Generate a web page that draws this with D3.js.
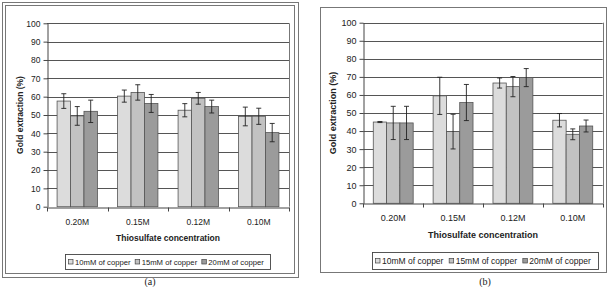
<html><head>
<meta charset="UTF-8">
<title>Gold extraction vs thiosulfate concentration</title>
<script src="https://d3js.org/d3.v7.min.js"></script>
<style>
    body { margin: 0; background: #fff; }
    svg { display: block; }
    text { font-family: "Liberation Sans", Arial, sans-serif; fill: #222; }
</style>
</head>
<body>
<svg id="chart" width="609" height="287"></svg>
<script>
    const categories = ["0.20M", "0.15M", "0.12M", "0.10M"];
    const seriesNames = ["10mM of copper", "15mM of copper", "20mM of copper"];
    const yTicks = [0, 10, 20, 30, 40, 50, 60, 70, 80, 90, 100];

    // panel (a)
    const aCu10 = [57.6, 60.3, 52.6, 49.2];
    const aCu15 = [49.5, 62.3, 59.1, 49.3];
    const aCu20 = [52.0, 56.3, 54.6, 40.4];
    const aErr10 = [4.0, 3.3, 3.6, 5.1];
    const aErr15 = [5.1, 4.2, 3.2, 4.4];
    const aErr20 = [6.1, 4.9, 3.5, 5.0];

    // panel (b)
    const bCu10 = [45.0, 59.5, 66.6, 46.0];
    const bCu15 = [44.5, 39.7, 64.6, 38.2];
    const bCu20 = [44.5, 55.8, 69.6, 42.8];
    const bErr10 = [0.3, 10.3, 2.8, 3.7];
    const bErr15 = [9.2, 9.6, 5.6, 3.0];
    const bErr20 = [9.2, 10.0, 5.0, 3.3];

    const colors = ["#dcdcdc", "#c2c2c2", "#9b9b9b"];

    const svg = d3.select("#chart");

    function drawPanel(p) {
        const g = svg.append("g");

        // frame
        p.frames.forEach(f => {
            g.append("rect").attr("x", f[0] + 0.5).attr("y", f[1] + 0.5)
                .attr("width", f[2] - f[0]).attr("height", f[3] - f[1])
                .attr("fill", "none").attr("stroke", "#777").attr("stroke-width", 1);
        });

        const x = d3.scaleBand().domain(categories).range([p.left, p.right]);
        const sub = d3.scaleBand().domain([0, 1, 2]).range([0, x.bandwidth()])
            .paddingInner(0).paddingOuter(0.75);
        const y = d3.scaleLinear().domain([0, 100]).range([p.bottom, p.top]);

        // gridlines
        g.selectAll(".grid").data(yTicks.slice(1)).enter().append("line")
            .attr("x1", p.left).attr("x2", p.right)
            .attr("y1", d => Math.round(y(d)) + 0.5).attr("y2", d => Math.round(y(d)) + 0.5)
            .attr("stroke", "#555").attr("stroke-width", 1);
        g.append("line").attr("x1", Math.round(p.right) + 0.5).attr("x2", Math.round(p.right) + 0.5)
            .attr("y1", p.top).attr("y2", p.bottom).attr("stroke", "#777");

        // bars
        const series = [p.v10, p.v15, p.v20];
        const errs = [p.e10, p.e15, p.e20];
        series.forEach((vals, si) => {
            const bars = categories.map((c, i) => ({ c, v: vals[i], e: errs[si][i] }));
            g.selectAll(".bar" + si).data(bars).enter().append("rect")
                .attr("x", d => x(d.c) + sub(si))
                .attr("y", d => y(d.v))
                .attr("width", sub.bandwidth())
                .attr("height", d => y(0) - y(d.v))
                .attr("fill", colors[si]).attr("stroke", "#555").attr("stroke-width", 0.8);
            const eb = g.selectAll(".err" + si).data(bars).enter().append("g")
                .attr("stroke", "#222").attr("stroke-width", 0.9);
            const cx = d => x(d.c) + sub(si) + sub.bandwidth() / 2;
            eb.append("line").attr("x1", cx).attr("x2", cx)
                .attr("y1", d => y(d.v + d.e)).attr("y2", d => y(d.v - d.e));
            eb.append("line").attr("x1", d => cx(d) - 2.5).attr("x2", d => cx(d) + 2.5)
                .attr("y1", d => y(d.v + d.e)).attr("y2", d => y(d.v + d.e));
            eb.append("line").attr("x1", d => cx(d) - 2.5).attr("x2", d => cx(d) + 2.5)
                .attr("y1", d => y(d.v - d.e)).attr("y2", d => y(d.v - d.e));
        });

        // y axis
        const ya = g.append("g").attr("transform", `translate(${Math.round(p.left) + 0.5},0)`)
            .call(d3.axisLeft(y).tickValues(yTicks).tickSize(4).tickSizeOuter(0).tickPadding(3));
        ya.selectAll("path, line").attr("stroke", "#444");
        ya.selectAll("text").attr("font-size", p.tickFont).attr("fill", "#222")
            .style("font-family", "'Liberation Sans', Arial, sans-serif");

        // x axis
        const xa = g.append("g").attr("transform", `translate(0,${Math.round(p.bottom) + 0.5})`)
            .call(d3.axisBottom(x).tickSize(0).tickPadding(11));
        xa.select(".domain").attr("stroke", "#444");
        xa.selectAll("text").attr("font-size", p.tickFont).attr("fill", "#222")
            .style("font-family", "'Liberation Sans', Arial, sans-serif");
        const bounds = categories.map(c => x(c)).concat([p.right]);
        xa.selectAll(".bound").data(bounds).enter().append("line")
            .attr("x1", d => Math.round(d) + 0.5).attr("x2", d => Math.round(d) + 0.5)
            .attr("y1", 0).attr("y2", 4).attr("stroke", "#444");

        // axis titles
        g.append("text").attr("x", (p.left + p.right) / 2).attr("y", p.xTitleY)
            .attr("text-anchor", "middle").attr("font-weight", "bold")
            .attr("font-size", p.titleFont).text("Thiosulfate concentration");
        g.append("text")
            .attr("transform", `translate(${p.yTitleX},${(p.top + p.bottom) / 2}) rotate(-90)`)
            .attr("text-anchor", "middle").attr("font-weight", "bold")
            .attr("font-size", p.titleFont).text("Gold extraction (%)");

        // legend
        const L = p.legend;
        g.append("rect").attr("x", L[0] + 0.5).attr("y", L[1] + 0.5)
            .attr("width", L[2] - L[0]).attr("height", L[3] - L[1])
            .attr("fill", "#fff").attr("stroke", "#444").attr("stroke-width", 0.9);
        const itemW = (L[2] - L[0] - 5) / 3;
        const midY = (L[1] + L[3]) / 2 + 0.5;
        seriesNames.forEach((name, i) => {
            const lx = L[0] + 3 + i * itemW;
            g.append("rect").attr("x", lx + 0.5).attr("y", midY - 2.5)
                .attr("width", 4.5).attr("height", 4.5)
                .attr("fill", colors[i]).attr("stroke", "#444").attr("stroke-width", 0.7);
            g.append("text").attr("x", lx + 7).attr("y", midY + p.legendFont * 0.36)
                .attr("font-size", p.legendFont).text(name);
        });

        // panel label
        g.append("text").attr("x", p.labelX).attr("y", 284.5)
            .attr("text-anchor", "middle").attr("font-size", 10)
            .style("font-family", "'Liberation Serif', 'Times New Roman', serif")
            .text(p.label);
    }

    drawPanel({
        frames: [[2, 2, 298, 277], [5, 5, 294, 273]],
        left: 47, right: 289, top: 23.3, bottom: 206.7,
        v10: aCu10, v15: aCu15, v20: aCu20, e10: aErr10, e15: aErr15, e20: aErr20,
        tickFont: 8.5, titleFont: 8.5, legendFont: 7.7,
        xTitleY: 241, yTitleX: 23,
        legend: [65, 254, 270, 269],
        label: "(a)", labelX: 150
    });

    drawPanel({
        frames: [[320, 7, 606, 272]],
        left: 363.3, right: 602.7, top: 22.7, bottom: 203.3,
        v10: bCu10, v15: bCu15, v20: bCu20, e10: bErr10, e15: bErr15, e20: bErr20,
        tickFont: 9, titleFont: 9, legendFont: 8.5,
        xTitleY: 238, yTitleX: 336,
        legend: [372, 252, 598, 269],
        label: "(b)", labelX: 485
    });
</script>
</body>
</html>
